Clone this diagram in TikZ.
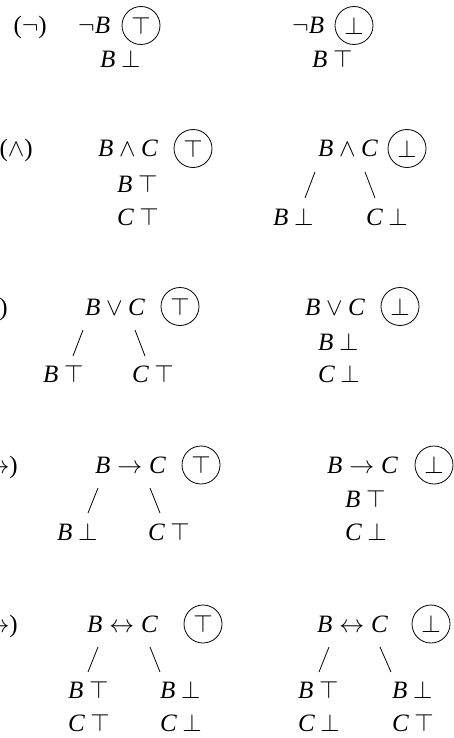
\documentclass[tikz,border=0pt]{standalone}
\usepackage{fontspec}
\setmainfont{Liberation Serif}
\begin{document}
\begin{tikzpicture}[x=1pt,y=-1pt,
  txt/.style={anchor=base west, inner sep=0pt, font=\fontsize{25}{30}\selectfont},
  lab/.style={anchor=base east, inner sep=0pt, font=\fontsize{25}{30}\selectfont},
  tv/.style={circle, draw, line width=0.8pt, minimum size=38pt, inner sep=0pt, font=\fontsize{25}{30}\selectfont},
  branch/.style={line width=0.8pt}]
\useasboundingbox (0,0) rectangle (454,738);
\clip (0,0) rectangle (454,738);
% Row 1: negation
\node[lab] (l1) at (47,34) {($\neg$)};
\node[txt] (n1a) at (78,34) {$\neg\mathit{B}$};
\node[tv] (c1a) at (141,25.5) {$\top$};
\node[txt] (n1b) at (100,68) {$\mathit{B}\:\bot$};
\node[txt] (n1c) at (292,34) {$\neg\mathit{B}$};
\node[tv] (c1c) at (354,25.5) {$\bot$};
\node[txt] (n1d) at (312,68) {$\mathit{B}\:\top$};
% Row 2: conjunction
\node[lab] (l2) at (33,157) {($\wedge$)};
\node[txt] (n2a) at (98,157) {$\mathit{B}\wedge\mathit{C}$};
\node[tv] (c2a) at (193,148.5) {$\top$};
\node[txt] (n2b) at (117,192) {$\mathit{B}\:\top$};
\node[txt] (n2c) at (117,225) {$\mathit{C}\:\top$};
\node[txt] (n2d) at (318,157) {$\mathit{B}\wedge\mathit{C}$};
\node[tv] (c2d) at (407,148.5) {$\bot$};
\coordinate (s2a) at (315,172); \coordinate (e2a) at (305,198);
\coordinate (s2b) at (365,172); \coordinate (e2b) at (375,198);
\draw[branch] (s2a) -- (e2a);
\draw[branch] (s2b) -- (e2b);
\node[txt] (n2e) at (273,225) {$\mathit{B}\:\bot$};
\node[txt] (n2f) at (366,225) {$\mathit{C}\:\bot$};
% Row 3: disjunction
\node[lab] (l3) at (8,315) {($\vee$)};
\node[txt] (n3a) at (85,315) {$\mathit{B}\vee\mathit{C}$};
\node[tv] (c3a) at (180,306.5) {$\top$};
\coordinate (s3a) at (83,330); \coordinate (e3a) at (73,356);
\coordinate (s3b) at (135,330); \coordinate (e3b) at (145,356);
\draw[branch] (s3a) -- (e3a);
\draw[branch] (s3b) -- (e3b);
\node[txt] (n3b) at (43,382) {$\mathit{B}\:\top$};
\node[txt] (n3c) at (132,382) {$\mathit{C}\:\top$};
\node[txt] (n3d) at (305,315) {$\mathit{B}\vee\mathit{C}$};
\node[tv] (c3d) at (400,306.5) {$\bot$};
\node[txt] (n3e) at (318,350) {$\mathit{B}\:\bot$};
\node[txt] (n3f) at (318,382) {$\mathit{C}\:\bot$};
% Row 4: implication
\node[lab] (l4) at (18,473) {($\rightarrow$)};
\node[txt] (n4a) at (95,473) {$\mathit{B}\rightarrow\mathit{C}$};
\node[tv] (c4a) at (201,465) {$\top$};
\coordinate (s4a) at (98,488); \coordinate (e4a) at (88,513);
\coordinate (s4b) at (150,488); \coordinate (e4b) at (160,513);
\draw[branch] (s4a) -- (e4a);
\draw[branch] (s4b) -- (e4b);
\node[txt] (n4b) at (57,540) {$\mathit{B}\:\bot$};
\node[txt] (n4c) at (148,540) {$\mathit{C}\:\top$};
\node[txt] (n4d) at (327,473) {$\mathit{B}\rightarrow\mathit{C}$};
\node[tv] (c4d) at (434,465) {$\bot$};
\node[txt] (n4e) at (345,507) {$\mathit{B}\:\top$};
\node[txt] (n4f) at (345,540) {$\mathit{C}\:\bot$};
% Row 5: biconditional
\node[lab] (l5) at (18,632) {($\leftrightarrow$)};
\node[txt] (n5a) at (87,632) {$\mathit{B}\leftrightarrow\mathit{C}$};
\node[tv] (c5a) at (203,624) {$\top$};
\coordinate (s5a) at (98,647); \coordinate (e5a) at (88,672);
\coordinate (s5b) at (150,647); \coordinate (e5b) at (160,672);
\draw[branch] (s5a) -- (e5a);
\draw[branch] (s5b) -- (e5b);
\node[txt] (n5b) at (68,698) {$\mathit{B}\:\top$};
\node[txt] (n5c) at (68,731) {$\mathit{C}\:\top$};
\node[txt] (n5d) at (160,698) {$\mathit{B}\:\bot$};
\node[txt] (n5e) at (160,731) {$\mathit{C}\:\bot$};
\node[txt] (n5f) at (317,632) {$\mathit{B}\leftrightarrow\mathit{C}$};
\node[tv] (c5f) at (431,624) {$\bot$};
\coordinate (s5c) at (329,647); \coordinate (e5c) at (319,672);
\coordinate (s5d) at (380,647); \coordinate (e5d) at (391,672);
\draw[branch] (s5c) -- (e5c);
\draw[branch] (s5d) -- (e5d);
\node[txt] (n5g) at (298,698) {$\mathit{B}\:\top$};
\node[txt] (n5h) at (298,731) {$\mathit{C}\:\bot$};
\node[txt] (n5i) at (392,698) {$\mathit{B}\:\bot$};
\node[txt] (n5j) at (392,731) {$\mathit{C}\:\top$};
\end{tikzpicture}
\end{document}
